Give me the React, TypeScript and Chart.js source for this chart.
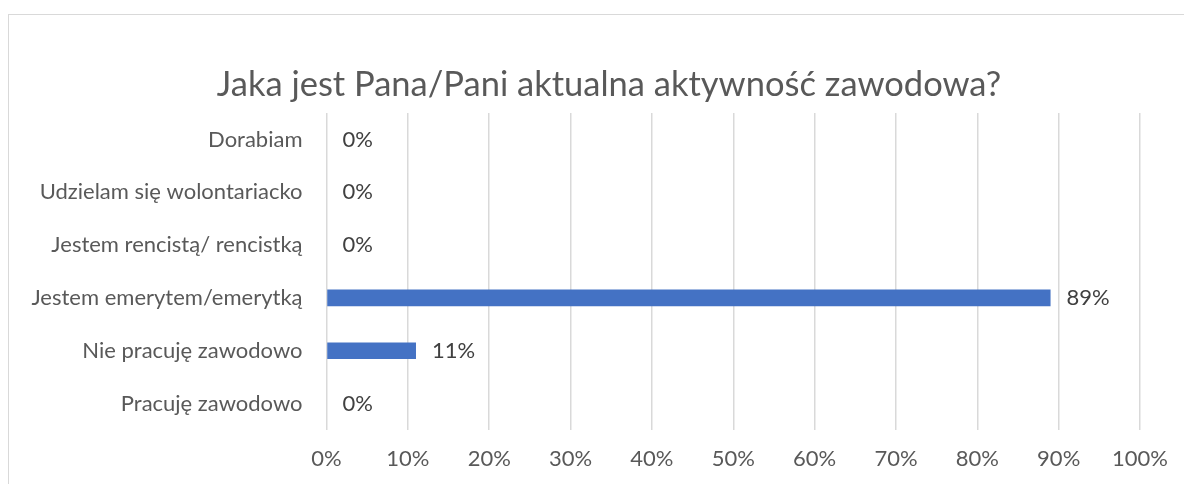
import { useEffect, useRef } from "react";
import { Chart, registerables } from "chart.js";

Chart.register(...registerables);

const chartTitle = "Jaka jest Pana/Pani aktualna aktywność zawodowa?";
const categories = [
  "Dorabiam",
  "Udzielam się wolontariacko",
  "Jestem rencistą/ rencistką",
  "Jestem emerytem/emerytką",
  "Nie pracuję zawodowo",
  "Pracuję zawodowo",
];
const values = [0, 0, 0, 89, 11, 0];
const xTicks = [0, 10, 20, 30, 40, 50, 60, 70, 80, 90, 100];

const FONT = "Lato";
const LABEL_SIZE = 22;
const TITLE_SIZE = 34.5;

const dataLabelPlugin = {
  id: "dataLabels",
  afterDatasetsDraw(chart: any) {
    const ctx = chart.ctx;
    const meta = chart.getDatasetMeta(0);
    ctx.save();
    ctx.font = `${LABEL_SIZE}px ${FONT}`;
    ctx.fillStyle = "#404040";
    ctx.textAlign = "left";
    ctx.textBaseline = "middle";
    meta.data.forEach((el: any, i: number) => {
      const v = chart.data.datasets[0].data[i];
      ctx.fillText(`${v}%`, el.x + 16, el.y);
    });
    ctx.restore();
  },
};

const titlePlugin = {
  id: "excelTitle",
  afterDraw(chart: any) {
    const ctx = chart.ctx;
    ctx.save();
    ctx.font = `${TITLE_SIZE}px ${FONT}`;
    ctx.fillStyle = "#595959";
    ctx.textAlign = "center";
    ctx.textBaseline = "alphabetic";
    ctx.fillText(chartTitle, chart.width / 2 + 17, 96);
    ctx.restore();
  },
};

export default function App() {
  const ref = useRef<HTMLCanvasElement | null>(null);

  useEffect(() => {
    if (!ref.current) return;
    const chart = new Chart(ref.current, {
      type: "bar",
      data: {
        labels: categories,
        datasets: [
          {
            data: values,
            backgroundColor: "#4472C4",
            borderWidth: 0,
            categoryPercentage: 1,
            barPercentage: 0.316,
          },
        ],
      },
      plugins: [dataLabelPlugin, titlePlugin],
      options: {
        indexAxis: "y",
        animation: false,
        responsive: false,
        devicePixelRatio: 1,
        layout: { padding: { top: 113, left: 8, right: 42.5, bottom: 0 } },
        plugins: {
          legend: { display: false },
          tooltip: { enabled: false },
          title: { display: false },
        },
        scales: {
          x: {
            type: "linear",
            position: "bottom",
            min: 0,
            max: 100,
            afterBuildTicks: (axis: any) => {
              axis.ticks = xTicks.map((v) => ({ value: v }));
            },
            afterFit: (axis: any) => {
              axis.height = 54;
            },
            ticks: {
              color: "#595959",
              font: { family: FONT, size: LABEL_SIZE },
              padding: 16,
              callback: (v: any) => `${v}%`,
            },
            grid: { color: "#d9d9d9", lineWidth: 1.5, drawTicks: false },
            border: { display: false },
          },
          y: {
            type: "category",
            afterFit: (axis: any) => {
              axis.width = 318.5;
            },
            ticks: {
              color: "#595959",
              font: { family: FONT, size: LABEL_SIZE },
              padding: 24,
            },
            grid: { display: false, drawTicks: false },
            border: { display: false },
          },
        },
      },
    });
    return () => chart.destroy();
  }, []);

  return (
    <div
      style={{
        position: "fixed",
        left: 0,
        top: 0,
        width: 1184,
        height: 484,
        background: "#ffffff",
        overflow: "hidden",
      }}
    >
      <div
        style={{
          position: "absolute",
          left: 8,
          top: 14,
          width: 1200,
          height: 500,
          border: "1px solid #d9d9d9",
          boxSizing: "border-box",
        }}
      />
      <canvas
        ref={ref}
        width={1184}
        height={484}
        style={{ position: "absolute", left: 0, top: 0, width: 1184, height: 484 }}
      />
    </div>
  );
}
